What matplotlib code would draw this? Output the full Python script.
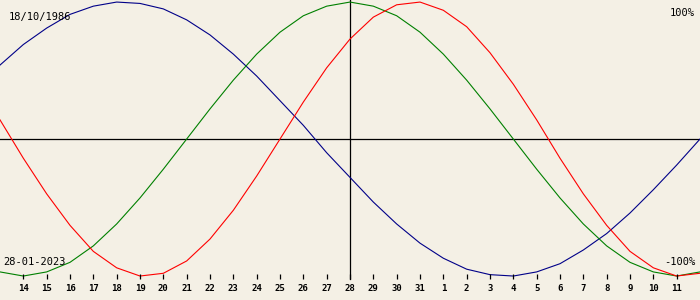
import numpy as np
import matplotlib.pyplot as plt

# biorhythm for 18/10/1986, shown around 28-01-2023 (one point per day, 13 Jan .. 12 Feb)
birth_label = "18/10/1986"
date_label = "28-01-2023"
days = [13, 14, 15, 16, 17, 18, 19, 20, 21, 22, 23, 24, 25, 26, 27, 28, 29, 30, 31,
        1, 2, 3, 4, 5, 6, 7, 8, 9, 10, 11, 12]

physical = [0.14, -0.14, -0.40, -0.63, -0.82, -0.94, -1.00, -0.98, -0.89, -0.73, -0.52,
            -0.27, 0.00, 0.27, 0.52, 0.73, 0.89, 0.98, 1.00, 0.94, 0.82, 0.63, 0.40,
            0.14, -0.14, -0.40, -0.63, -0.82, -0.94, -1.00, -0.98]
emotional = [-0.97, -1.00, -0.97, -0.90, -0.78, -0.62, -0.43, -0.22, 0.00, 0.22, 0.43,
             0.62, 0.78, 0.90, 0.97, 1.00, 0.97, 0.90, 0.78, 0.62, 0.43, 0.22, 0.00,
             -0.22, -0.43, -0.62, -0.78, -0.90, -0.97, -1.00, -0.97]
intellectual = [0.54, 0.69, 0.81, 0.91, 0.97, 1.00, 0.99, 0.95, 0.87, 0.76, 0.62, 0.46,
                0.28, 0.10, -0.10, -0.28, -0.46, -0.62, -0.76, -0.87, -0.95, -0.99,
                -1.00, -0.97, -0.91, -0.81, -0.69, -0.54, -0.37, -0.19, 0.00]

bg = '#f4f0e5'
x = np.arange(len(days))
today = days.index(28)

fig = plt.figure(figsize=(7, 3), dpi=100, facecolor=bg)
ax = fig.add_axes([0, 0, 1, 1])
ax.set_facecolor(bg)
ax.set_xlim(0, len(days) - 1)
ax.set_ylim(-1.175, 1.015)
ax.axis('off')

# pixel rows -> data values (centre row 139, 137 px per unit)
def ypx(p):
    return (139 - p) / 137.0

ax.axhline(0, color='black', lw=0.9)
ax.plot([today, today], [ypx(279), 1.1], color='black', lw=0.9)

ax.plot(x, intellectual, color='#000088', lw=0.8)
ax.plot(x, emotional, color='#008000', lw=0.8)
ax.plot(x, physical, color='#ff0000', lw=0.8)

# day ticks along the bottom
ax.vlines(x[1:-1], ypx(274), ypx(279), color='black', lw=0.9)
for xi, d in zip(x[1:-1], days[1:-1]):
    ax.text(xi, ypx(288), str(d), ha='center', va='center', fontsize=6.5,
            family='DejaVu Sans Mono', fontweight='bold')

tr = ax.get_yaxis_transform()
ax.text(9 / 700, ypx(17), birth_label, ha='left', va='center', fontsize=7.5,
        family='DejaVu Sans Mono', transform=tr)
ax.text(0.005, ypx(262), date_label, ha='left', va='center', fontsize=7.5,
        family='DejaVu Sans Mono', transform=tr)
ax.text(0.993, ypx(13), "100%", ha='right', va='center', fontsize=7.5,
        family='DejaVu Sans Mono', transform=tr)
ax.text(0.993, ypx(262), "-100%", ha='right', va='center', fontsize=7.5,
        family='DejaVu Sans Mono', transform=tr)

fig.savefig('out.png', dpi=100, facecolor=bg)
